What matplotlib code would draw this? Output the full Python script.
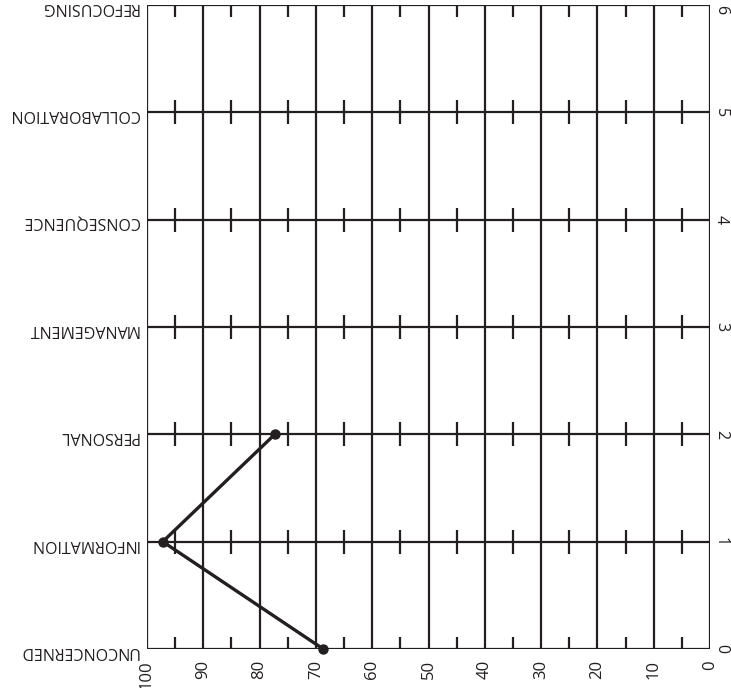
import matplotlib.pyplot as plt
import matplotlib.transforms as mtransforms

# stages of concern, listed from bottom (0) to top (6)
stages = ["UNCONCERNED", "INFORMATION", "PERSONAL", "MANAGEMENT",
          "CONSEQUENCE", "COLLABORATION", "REFOCUSING"]
stage_pos = [0, 1, 2, 3, 4, 5, 6]

# percentile scores (only the first three stages are plotted)
score_stage = [0, 1, 2]
score_val = [68.7, 97.2, 77.3]

x_ticks = [100, 90, 80, 70, 60, 50, 40, 30, 20, 10, 0]
minor_x = [95, 85, 75, 65, 55, 45, 35, 25, 15, 5]

ink = "#231f20"
plt.rcParams['font.family'] = ['Open Sans', 'DejaVu Sans']

fig = plt.figure(figsize=(7.31, 6.88), dpi=100)
ax = fig.add_axes([147 / 731, 39 / 688, 563 / 731, 644 / 688])

ax.set_xlim(100, 0)
ax.set_ylim(0, 6)

# grid
for x in x_ticks:
    ax.axvline(x, color=ink, lw=1.6, zorder=1)
for y in stage_pos:
    ax.axhline(y, color=ink, lw=1.6, zorder=1)

# short cross marks at the 5s
half = 12 / 107.3
for y in stage_pos:
    lo = y - half if y > 0 else y
    hi = y + half if y < 6 else y
    ax.vlines(minor_x, lo, hi, color=ink, lw=1.6, zorder=1)

ax.plot(score_val, score_stage, color=ink, lw=2.4, marker="o", ms=6.5, zorder=3,
        clip_on=False)

for s in ax.spines.values():
    s.set_visible(False)

ax.set_xticks(x_ticks)
ax.set_xticklabels([str(v) for v in x_ticks], rotation=90, fontsize=12, color=ink)
ax.set_yticks(stage_pos)
ax.set_yticklabels(stages, rotation=180, fontsize=11.5, color=ink)
ax.tick_params(axis="both", length=0, pad=8)
ax.tick_params(axis="y", pad=6)

# stage numbers on the right side
trans = mtransforms.blended_transform_factory(ax.transAxes, ax.transData)
for y in stage_pos:
    va = "top" if y == stage_pos[-1] else "center"
    ax.text(1.005, y, str(y), transform=trans, rotation=270, fontsize=11.5,
            color=ink, ha="left", va=va)

fig.savefig("out.png", dpi=100)
